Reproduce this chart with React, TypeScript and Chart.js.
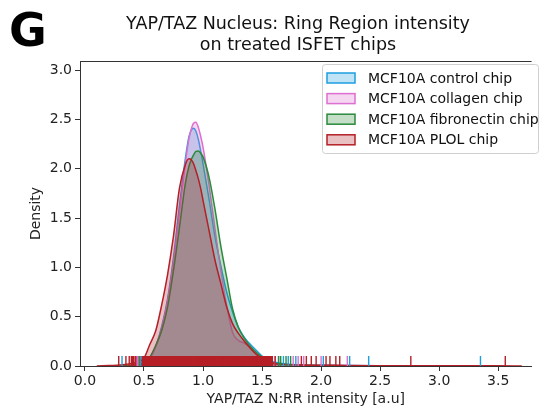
import React, { useEffect, useRef } from 'react';
import { Chart, registerables } from 'chart.js';

Chart.register(...registerables);

// ---------- data ----------
const panelLetter = 'G';
const titleLines = ['YAP/TAZ Nucleus: Ring Region intensity', 'on treated ISFET chips'];
const xAxisLabel = 'YAP/TAZ N:RR intensity [a.u]';
const yAxisLabel = 'Density';

const seriesLabels = [
  'MCF10A control chip',
  'MCF10A collagen chip',
  'MCF10A fibronectin chip',
  'MCF10A PLOL chip',
];

const xTickValues = [0.0, 0.5, 1.0, 1.5, 2.0, 2.5, 3.0, 3.5];
const yTickValues = [0.0, 0.5, 1.0, 1.5, 2.0, 2.5, 3.0];

// shared evaluation grid of the density curves
const gridX = [
  0.1, 0.2, 0.3, 0.4, 0.45, 0.5, 0.55, 0.6, 0.65, 0.7, 0.75, 0.8, 0.85, 0.88, 0.9, 0.92, 0.94, 0.96,
  0.98, 1.0, 1.05, 1.1, 1.15, 1.2, 1.25, 1.3, 1.35, 1.4, 1.45, 1.5, 1.55, 1.6, 1.7, 1.8, 2.0, 2.2,
  2.5, 3.0, 3.5, 3.7,
];

const controlDensity = [
  null, null, 0.0, 0.005, 0.012, 0.03, 0.08, 0.2, 0.4, 0.68, 1.1, 1.62, 2.1, 2.32, 2.39, 2.41, 2.38,
  2.3, 2.18, 2.05, 1.7, 1.32, 1.02, 0.75, 0.55, 0.39, 0.29, 0.22, 0.16, 0.1, 0.06, 0.04, 0.02, 0.012,
  0.008, 0.005, 0.003, 0.001, 0.0, null,
];

const collagenDensity = [
  null, null, 0.0, 0.005, 0.012, 0.03, 0.08, 0.2, 0.38, 0.66, 1.05, 1.55, 2.05, 2.3, 2.4, 2.46, 2.47,
  2.42, 2.33, 2.22, 1.84, 1.4, 0.98, 0.62, 0.34, 0.26, 0.23, 0.19, 0.12, 0.06, 0.03, 0.02, 0.012, 0.01,
  0.006, 0.004, 0.0, null, null, null,
];

const fibronectinDensity = [
  null, null, 0.0, 0.005, 0.012, 0.03, 0.09, 0.21, 0.36, 0.6, 0.97, 1.4, 1.85, 2.02, 2.09, 2.14, 2.175,
  2.18, 2.16, 2.12, 1.92, 1.6, 1.22, 0.9, 0.58, 0.39, 0.28, 0.2, 0.14, 0.09, 0.05, 0.03, 0.015, 0.01,
  0.005, 0.002, 0.0, null, null, null,
];

const plolDensity = [
  0.0, 0.005, 0.01, 0.025, 0.04, 0.08, 0.22, 0.36, 0.62, 0.93, 1.32, 1.8, 2.04, 2.1, 2.09, 2.05, 1.98,
  1.9, 1.8, 1.68, 1.38, 1.08, 0.84, 0.6, 0.43, 0.33, 0.25, 0.18, 0.12, 0.075, 0.045, 0.025, 0.015, 0.01,
  0.008, 0.005, 0.003, 0.002, 0.002, 0.0,
];

// observed values (rug marks)
const controlRug = [
  0.314, 0.472, 0.62, 0.84, 1.12, 1.4, 1.64, 1.681, 1.722, 1.786, 2.019, 2.242, 2.403, 3.35,
];
const collagenRug = [0.44, 0.453, 0.7, 1.3, 1.611, 1.764, 1.806, 1.853, 2.0, 2.222];
const fibronectinRug = [0.46, 0.9, 1.45, 1.64, 1.658, 1.703, 1.742];
const plolRug = [
  0.286, 0.347, 0.375, 0.397, 0.411, 0.43, 0.488, 0.497, 0.509, 0.518, 0.526, 0.538, 0.547, 0.555,
  0.566, 0.574, 0.586, 0.595, 0.603, 0.615, 0.624, 0.632, 0.644, 0.653, 0.661, 0.673, 0.682, 0.69,
  0.702, 0.711, 0.719, 0.731, 0.74, 0.748, 0.76, 0.769, 0.777, 0.789, 0.798, 0.806, 0.818, 0.827,
  0.835, 0.847, 0.856, 0.864, 0.876, 0.885, 0.893, 0.905, 0.914, 0.922, 0.934, 0.943, 0.951, 0.963,
  0.972, 0.98, 0.992, 1.001, 1.009, 1.021, 1.03, 1.038, 1.05, 1.059, 1.067, 1.079, 1.088, 1.096,
  1.108, 1.117, 1.125, 1.137, 1.146, 1.154, 1.166, 1.175, 1.183, 1.195, 1.204, 1.212, 1.224, 1.233,
  1.241, 1.253, 1.262, 1.27, 1.282, 1.291, 1.299, 1.311, 1.32, 1.328, 1.34, 1.349, 1.357, 1.369,
  1.378, 1.386, 1.398, 1.407, 1.415, 1.427, 1.436, 1.444, 1.456, 1.465, 1.473, 1.485, 1.494, 1.502,
  1.514, 1.523, 1.531, 1.543, 1.552, 1.56, 1.572, 1.583, 1.611, 1.833, 1.875, 1.917, 1.958, 2.042,
  2.075, 2.125, 2.158, 2.76, 3.56,
];

// ---------- styles ----------
const lineColors = ['#1c9fdf', '#dd6fd0', '#2b8a3b', '#b51f26'];
const fillColors = [
  'rgba(28,159,223,0.28)',
  'rgba(221,111,208,0.28)',
  'rgba(43,138,59,0.28)',
  'rgba(181,31,38,0.28)',
];
const FONT = '"DejaVu Sans", Verdana, sans-serif';

export default function App() {
  const ref = useRef<HTMLCanvasElement>(null);

  useEffect(() => {
    const canvas = ref.current;
    if (!canvas) return;

    const densities = [controlDensity, collagenDensity, fibronectinDensity, plolDensity];
    const rugs = [controlRug, collagenRug, fibronectinRug, plolRug];
    const rugLevel = 0.05;

    const kdeSets = densities.map((vals, i) => ({
      type: 'line' as const,
      label: seriesLabels[i],
      data: gridX
        .map((x, j) => ({ x, y: vals[j] }))
        .filter((p) => p.y !== null && p.y !== undefined),
      borderColor: lineColors[i],
      backgroundColor: fillColors[i],
      borderWidth: 1.5,
      fill: 'origin',
      pointRadius: 0,
      pointHoverRadius: 0,
      cubicInterpolationMode: 'monotone' as const,
      order: 8 - i,
    }));

    // rug ticks: thin when isolated, slightly wider inside dense runs so they merge
    const rugWidth = (vals: number[]) => (c: any) => {
      const k = c.dataIndex;
      const v = vals[k];
      const prev = k > 0 ? v - vals[k - 1] : 1;
      const next = k < vals.length - 1 ? vals[k + 1] - v : 1;
      return Math.min(prev, next) < 0.014 ? 2.4 : 1.4;
    };

    const rugSets = rugs.map((vals, i) => ({
      type: 'line' as const,
      label: 'rug-' + i,
      data: vals.map((v) => ({ x: v, y: rugLevel })),
      showLine: false,
      pointStyle: 'line' as const,
      rotation: 90,
      pointRadius: 5,
      pointHoverRadius: 5,
      pointBorderWidth: rugWidth(vals),
      borderColor: lineColors[i],
      backgroundColor: lineColors[i],
      order: 4 - i,
    }));

    const overlay = {
      id: 'overlay',
      afterDraw(chart: any) {
        const ctx = chart.ctx as CanvasRenderingContext2D;
        const a = chart.chartArea;
        ctx.save();
        // top spine
        ctx.strokeStyle = '#333';
        ctx.lineWidth = 1;
        ctx.beginPath();
        ctx.moveTo(a.left, a.top + 0.5);
        ctx.lineTo(a.right, a.top + 0.5);
        ctx.stroke();

        // panel letter
        ctx.fillStyle = '#000';
        ctx.textAlign = 'left';
        ctx.textBaseline = 'alphabetic';
        ctx.font = 'bold 46px ' + FONT;
        ctx.fillText(panelLetter, 9, 46);

        // title
        ctx.font = '17.5px ' + FONT;
        ctx.textAlign = 'center';
        ctx.fillStyle = '#111';
        titleLines.forEach((t, i) => ctx.fillText(t, 298, 29 + i * 21));

        // legend
        const lx = 322, ly = 64, lw = 216, lh = 89;
        ctx.fillStyle = 'rgba(255,255,255,0.8)';
        ctx.strokeStyle = '#cfcfcf';
        ctx.lineWidth = 1;
        ctx.beginPath();
        (ctx as any).roundRect(lx + 0.5, ly + 0.5, lw, lh, 3);
        ctx.fill();
        ctx.stroke();
        ctx.font = '14px ' + FONT;
        ctx.textAlign = 'left';
        ctx.textBaseline = 'middle';
        seriesLabels.forEach((label, i) => {
          const cy = 78 + i * 20.6;
          ctx.fillStyle = '#fff';
          ctx.fillRect(327, cy - 5, 28, 10);
          ctx.fillStyle = fillColors[i];
          ctx.fillRect(327, cy - 5, 28, 10);
          ctx.strokeStyle = lineColors[i];
          ctx.lineWidth = 1.5;
          ctx.strokeRect(327, cy - 5, 28, 10);
          ctx.fillStyle = '#111';
          ctx.fillText(label, 368, cy + 1);
        });
        ctx.restore();
      },
    };

    const chart = new Chart(canvas, {
      type: 'line',
      data: { datasets: [...kdeSets, ...rugSets] as any },
      options: {
        animation: false,
        responsive: false,
        devicePixelRatio: 1,
        events: [],
        layout: { padding: { left: 0, right: 0, top: 61, bottom: 0 } },
        plugins: {
          legend: { display: false },
          title: { display: false },
          tooltip: { enabled: false },
        },
        scales: {
          x: {
            type: 'linear',
            min: -0.042,
            max: 3.783,
            afterBuildTicks: (s: any) => {
              s.ticks = xTickValues.map((v) => ({ value: v }));
            },
            afterFit: (s: any) => {
              s.height = 43;
            },
            ticks: {
              autoSkip: false,
              maxRotation: 0,
              padding: 2,
              color: '#222',
              font: { family: FONT, size: 14 },
              callback: (v: any) => Number(v).toFixed(1),
            },
            grid: {
              display: true,
              drawOnChartArea: false,
              drawTicks: true,
              tickLength: 5,
              color: '#333',
            },
            border: { display: true, color: '#333', width: 1 },
            title: {
              display: true,
              text: xAxisLabel,
              color: '#222',
              font: { family: FONT, size: 14 },
              padding: { top: 0, bottom: 1 },
            },
          },
          y: {
            type: 'linear',
            min: 0,
            max: 3.092,
            afterBuildTicks: (s: any) => {
              s.ticks = yTickValues.map((v) => ({ value: v }));
            },
            afterFit: (s: any) => {
              s.width = 80;
            },
            ticks: {
              padding: 3,
              color: '#222',
              font: { family: FONT, size: 14 },
              callback: (v: any) => Number(v).toFixed(1),
            },
            grid: {
              display: true,
              drawOnChartArea: false,
              drawTicks: true,
              tickLength: 5,
              color: '#333',
            },
            border: { display: true, color: '#333', width: 1 },
            title: {
              display: true,
              text: yAxisLabel,
              color: '#222',
              font: { family: FONT, size: 14 },
              padding: { top: 28, bottom: 0 },
            },
          },
        },
      },
      plugins: [overlay],
    });

    return () => chart.destroy();
  }, []);

  return (
    <div style={{ position: 'fixed', left: 0, top: 0, width: 539, height: 409, background: '#fff' }}>
      <canvas ref={ref} width={539} height={409} style={{ width: 539, height: 409, display: 'block' }} />
    </div>
  );
}
